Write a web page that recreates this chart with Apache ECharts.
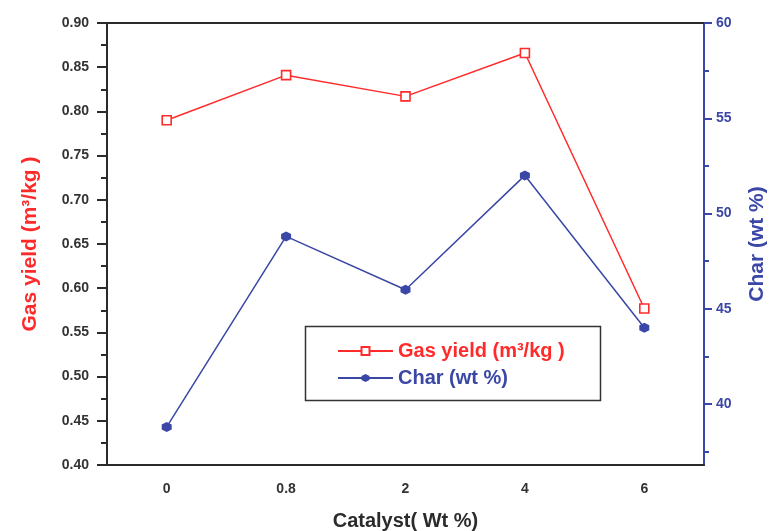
<!DOCTYPE html>
<html>
<head>
<meta charset="utf-8">
<script src="https://cdn.jsdelivr.net/npm/echarts@6/dist/echarts.min.js"></script>
<style>
  html, body { margin: 0; padding: 0; background: #fff; }
  #chart { width: 769px; height: 531px; }
</style>
</head>
<body>
<div id="chart"></div>
<script>
// Catalyst loading (wt %) on the category axis
const catalyst = ['0', '0.8', '2', '4', '6'];
// Gas yield, m3/kg (left axis)
const gasYield = [0.790, 0.841, 0.817, 0.866, 0.577];
// Char, wt % (right axis)
const charWt = [38.8, 48.8, 46.0, 52.0, 44.0];
// Right axis labelled ticks and the half-step minor ticks
const charTicks = [40, 45, 50, 55, 60];
const charMinorTicks = [37.5, 42.5, 47.5, 52.5, 57.5];

const RED = '#ff2b2b';
const BLUE = '#3a47a6';
const INK = '#2b2b2b';
const FONT = '"Liberation Sans", Arial, sans-serif';
const hexagon = 'path://M0,-10L8.66,-5L8.66,5L0,10L-8.66,5L-8.66,-5Z';

const chart = echarts.init(document.getElementById('chart'));
chart.setOption({
  animation: false,
  backgroundColor: '#fff',
  grid: { left: 107, right: 65, top: 23, bottom: 66, outerBoundsMode: 'none', containLabel: false },
  legend: {
    orient: 'vertical',
    left: 332, top: 336,
    itemWidth: 55, itemHeight: 10, itemGap: 7,
    data: [
      { name: 'Gas yield (m³/kg )', textStyle: { color: RED } },
      { name: 'Char (wt %)', textStyle: { color: BLUE } }
    ],
    textStyle: { fontFamily: FONT, fontWeight: 'bold', fontSize: 20 }
  },
  graphic: [{
    type: 'rect', left: 303, top: 324,
    shape: { width: 295, height: 74 },
    style: { fill: 'none', stroke: '#333', lineWidth: 1.5 }
  }],
  xAxis: [
    {
      type: 'category', data: catalyst, position: 'bottom', boundaryGap: true,
      name: 'Catalyst( Wt %)', nameLocation: 'middle', nameGap: 46,
      nameTextStyle: { fontFamily: FONT, fontWeight: 'bold', fontSize: 20, color: INK },
      axisLine: { lineStyle: { color: INK, width: 2 } },
      axisTick: { alignWithLabel: true, length: 7, lineStyle: { color: INK, width: 2 } },
      axisLabel: { fontFamily: FONT, fontWeight: 'bold', fontSize: 14, color: '#333', margin: 17 },
      splitLine: { show: false }
    },
    {
      type: 'category', data: catalyst, position: 'bottom', boundaryGap: true,
      axisLine: { show: false },
      axisTick: { alignWithLabel: false, length: 4, lineStyle: { color: INK, width: 2 } },
      axisLabel: { show: false }, splitLine: { show: false }
    },
    {
      type: 'category', data: catalyst, position: 'top', boundaryGap: true,
      axisLine: { lineStyle: { color: INK, width: 2 } },
      axisTick: { inside: true, alignWithLabel: true, length: 7, lineStyle: { color: INK, width: 2 } },
      axisLabel: { show: false }, splitLine: { show: false }
    }
  ],
  yAxis: [
    {
      type: 'value', position: 'left', min: 0.4, max: 0.9, interval: 0.05,
      name: 'Gas yield (m³/kg )', nameLocation: 'middle', nameRotate: 90, nameGap: 66,
      nameTextStyle: { fontFamily: FONT, fontWeight: 'bold', fontSize: 21, color: RED },
      axisLine: { show: true, lineStyle: { color: INK, width: 2 } },
      axisTick: { show: true, length: 10, lineStyle: { color: INK, width: 2 } },
      minorTick: { show: true, splitNumber: 2, length: 6, lineStyle: { color: INK, width: 2 } },
      axisLabel: {
        fontFamily: FONT, fontWeight: 'bold', fontSize: 14, color: '#333', margin: 18,
        formatter: v => v.toFixed(2)
      },
      splitLine: { show: false }
    },
    {
      type: 'value', position: 'right', min: 36.8, max: 60,
      name: 'Char (wt %)', nameLocation: 'middle', nameRotate: 90, nameGap: 43,
      nameTextStyle: { fontFamily: FONT, fontWeight: 'bold', fontSize: 21, color: BLUE },
      axisLine: { show: true, lineStyle: { color: BLUE, width: 2 } },
      axisTick: { show: true, length: 8, customValues: charTicks, lineStyle: { color: BLUE, width: 2 } },
      axisLabel: {
        fontFamily: FONT, fontWeight: 'bold', fontSize: 14, color: BLUE, margin: 12,
        customValues: charTicks
      },
      splitLine: { show: false }
    },
    {
      type: 'value', position: 'right', min: 36.8, max: 60,
      axisLine: { show: false },
      axisTick: { show: true, length: 5, customValues: charMinorTicks, lineStyle: { color: BLUE, width: 2 } },
      axisLabel: { show: false },
      splitLine: { show: false }
    }
  ],
  series: [
    {
      name: 'Gas yield (m³/kg )', type: 'line', xAxisIndex: 0, yAxisIndex: 0,
      data: gasYield,
      symbol: 'rect', symbolSize: 9,
      lineStyle: { color: RED, width: 1.5 },
      itemStyle: { color: '#fff', borderColor: RED, borderWidth: 1.6 }
    },
    {
      name: 'Char (wt %)', type: 'line', xAxisIndex: 0, yAxisIndex: 1,
      data: charWt,
      symbol: hexagon, symbolSize: 10,
      lineStyle: { color: BLUE, width: 1.5 },
      itemStyle: { color: BLUE, borderColor: BLUE, borderWidth: 0 }
    }
  ]
});
</script>
</body>
</html>
